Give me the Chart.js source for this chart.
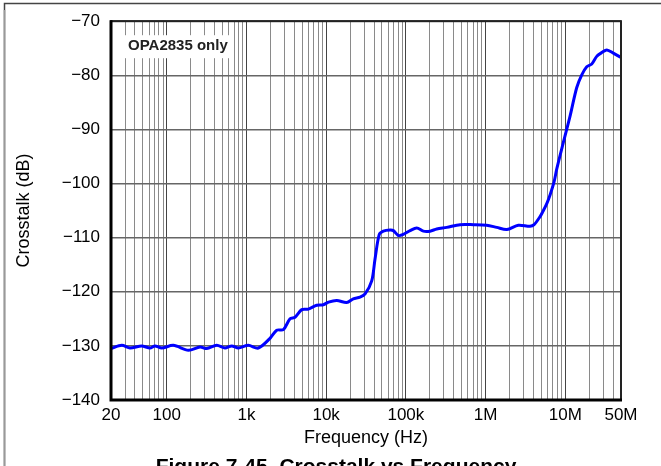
<!DOCTYPE html>
<html>
<head>
<meta charset="utf-8">
<title>Crosstalk vs Frequency</title>
<script src="https://cdn.jsdelivr.net/npm/chart.js@4.4.1/dist/chart.umd.min.js"></script>
<style>
  html, body { margin: 0; padding: 0; background: #fff; }
  #wrap { width: 661px; height: 466px; overflow: hidden; }
</style>
</head>
<body>
<div id="wrap"><canvas id="myChart" width="661" height="466"></canvas></div>
<script>
// DATA
const freqHz = [20, 27.3, 34.6, 48.5, 61.7, 71.3, 86.5, 121, 187, 262, 318, 424, 538, 654, 791, 1057,
    1410, 1977, 2400, 2904, 3525, 4072, 4943, 5985, 7620, 9232, 10700, 13600, 18100, 21900, 26600,
    30800, 37300, 41000, 46400, 52200, 63400, 69700, 80600, 93000, 113000, 137000, 166000, 201000,
    244000, 326000, 479000, 703000, 1030000, 1380000, 1850000, 2580000, 3610000, 4060000, 4830000,
    5220000, 5860000, 6440000, 7230000, 7820000, 9460000, 11500000, 13900000, 16100000, 18600000,
    21500000, 24800000, 28700000, 33200000, 40100000, 50000000];
const crosstalkDb = [-130.5, -129.9, -130.4, -130.0, -130.4, -130.0, -130.4, -129.9, -130.8, -130.2,
    -130.5, -129.9, -130.4, -130.0, -130.4, -129.9, -130.4, -128.6, -127.1, -127.0, -125.0, -124.7,
    -123.3, -123.2, -122.5, -122.4, -121.9, -121.6, -122.0, -121.3, -121.0, -120.4, -118.0, -114.0,
    -109.4, -108.8, -108.6, -108.7, -109.6, -109.4, -108.7, -108.2, -108.8, -108.8, -108.4, -108.1,
    -107.6, -107.6, -107.7, -108.1, -108.5, -107.7, -107.9, -107.6, -106.1, -105.2, -103.7, -102.1,
    -99.7, -97.3, -92.4, -87.5, -82.3, -79.9, -78.4, -77.9, -76.5, -75.8, -75.3, -75.9, -76.7];

const xMin = 20;
const xMax = 50e6;
const xLabels = { 20: '20', 100: '100', 1000: '1k', 10000: '10k', 100000: '100k', 1000000: '1M', 10000000: '10M', 50000000: '50M' };
const yMin = -140;
const yMax = -70;
const yStep = 10;
const captionText = 'Figure 7-45. Crosstalk vs Frequency';
const noteText = 'OPA2835 only';

const FONT = "'Liberation Sans', Arial, sans-serif";

// ALL 1..9 x 10^N POSITIONS FOR THE LOG GRID
const gridValues = [];
for (let p = 1; p <= 7; p++) {
    for (let m = 1; m <= 9; m++) {
        const v = m * Math.pow(10, p);
        if (v >= xMin && v <= xMax) gridValues.push(v);
    }
}

function isDecade(v) {
    const l = Math.log10(v);
    return Math.abs(l - Math.round(l)) < 1e-9;
}

// FRAME, NOTE BOX, CAPTION
const extras = {
    id: 'extras',
    beforeDatasetsDraw(chart) {
        const { ctx, chartArea: a } = chart;
        ctx.save();
        ctx.fillStyle = '#fff';
        ctx.fillRect(a.left + 11, a.top + 14, 112, 23);
        ctx.fillStyle = '#222';
        ctx.font = 'bold 15px ' + FONT;
        ctx.textBaseline = 'middle';
        ctx.fillText(noteText, a.left + 17, a.top + 25);
        ctx.restore();
    },
    afterDatasetsDraw(chart) {
        const { ctx, chartArea: a } = chart;
        ctx.save();
        ctx.strokeStyle = '#222';
        ctx.lineWidth = 2;
        ctx.strokeRect(a.left, a.top, a.right - a.left, a.bottom - a.top);
        ctx.strokeStyle = '#000';
        ctx.lineWidth = 3;
        ctx.beginPath();
        ctx.moveTo(a.left, a.top - 1);
        ctx.lineTo(a.left, a.bottom);
        ctx.lineTo(a.right + 1, a.bottom);
        ctx.stroke();
        ctx.restore();
    },
    afterDraw(chart) {
        const { ctx } = chart;
        ctx.save();
        // OUTER FRAME (TOP AND LEFT ONLY VISIBLE)
        ctx.strokeStyle = '#444';
        ctx.lineWidth = 1.5;
        ctx.beginPath();
        ctx.moveTo(4.5, 466);
        ctx.lineTo(4.5, 3.5);
        ctx.lineTo(661, 3.5);
        ctx.stroke();
        ctx.strokeStyle = '#999';
        ctx.beginPath();
        ctx.moveTo(4.5, 466);
        ctx.lineTo(4.5, 10);
        ctx.stroke();
        // CAPTION, CUT BY THE BOTTOM EDGE
        ctx.fillStyle = '#000';
        ctx.font = 'bold 21px ' + FONT;
        ctx.textAlign = 'center';
        ctx.textBaseline = 'alphabetic';
        ctx.fillText(captionText, 336, 473);
        ctx.restore();
    }
};

const ctx = document.getElementById('myChart').getContext('2d');
const myChart = new Chart(ctx, {
    type: 'line',
    data: {
        datasets: [{
            data: freqHz.map((f, i) => ({ x: f, y: crosstalkDb[i] })),
            borderColor: '#0000ff',
            borderWidth: 3,
            pointRadius: 0,
            tension: 0.3,
            fill: false
        }]
    },
    options: {
        responsive: false,
        animation: false,
        events: [],
        layout: { padding: { left: 6, right: 40, top: 17, bottom: 0 } },
        plugins: {
            legend: { display: false },
            tooltip: { enabled: false }
        },
        scales: {
            x: {
                type: 'logarithmic',
                min: xMin,
                max: xMax,
                afterBuildTicks: scale => { scale.ticks = gridValues.map(v => ({ value: v })); },
                afterFit: scale => { scale.height = 66; },
                border: { display: false },
                grid: {
                    drawTicks: false,
                    color: c => (c.tick && isDecade(c.tick.value)) ? '#444' : '#8a8a8a',
                    lineWidth: 1
                },
                ticks: {
                    autoSkip: false,
                    maxRotation: 0,
                    padding: 5,
                    color: '#000',
                    font: { family: FONT, size: 17 },
                    callback: v => xLabels[v] || ''
                },
                title: {
                    display: true,
                    text: 'Frequency (Hz)',
                    color: '#000',
                    font: { family: FONT, size: 18 },
                    padding: { top: 0, bottom: 17 }
                }
            },
            y: {
                min: yMin,
                max: yMax,
                afterFit: scale => { scale.width = 105; },
                border: { display: false },
                grid: {
                    drawTicks: false,
                    color: '#666',
                    lineWidth: 1.5
                },
                ticks: {
                    stepSize: yStep,
                    padding: 11,
                    color: '#000',
                    font: { family: FONT, size: 17 },
                    callback: v => String(v).replace('-', '\u2212')
                },
                title: {
                    display: true,
                    text: 'Crosstalk (dB)',
                    color: '#000',
                    font: { family: FONT, size: 18 },
                    padding: { top: 7, bottom: 0 }
                }
            }
        }
    },
    plugins: [extras]
});
</script>
</body>
</html>
